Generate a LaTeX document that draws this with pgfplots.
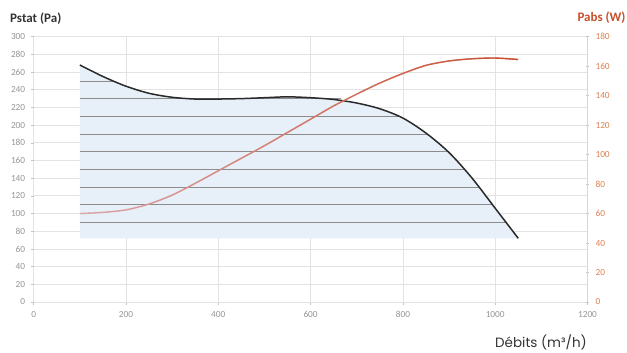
\documentclass[border=0pt]{standalone}
\usepackage{fontspec}
\setmainfont{Carlito}
\newfontfamily\poppins{Poppins}
\usepackage{pgfplots}
\pgfplotsset{compat=1.18}
\usetikzlibrary{fadings}
\definecolor{tickgray}{HTML}{959595}
\definecolor{gridgray}{HTML}{E3E3E3}
\definecolor{fillblue}{HTML}{E7EFF8}
\definecolor{hline}{HTML}{8C8C8C}
\definecolor{curvecol}{HTML}{2A2A2A}
\definecolor{pabsred}{HTML}{C94E2C}
\definecolor{pabspink}{HTML}{DCA6A8}
\definecolor{righttick}{HTML}{DB8050}
\definecolor{titlegray}{HTML}{333333}
\definecolor{rightaxis}{HTML}{C9D8EC}
\begin{document}
\begin{tikzpicture}
\begin{axis}[
  at={(0,0)}, anchor=south west,
  scale only axis, width=553.8pt, height=265.3pt,
  xmin=0, xmax=1200, ymin=0, ymax=300,
  xtick={0,200,...,1200}, ytick={0,20,...,300},
  axis lines*=left,
  x axis line style={gridgray, line width=0.8pt},
  y axis line style={draw=none},
  grid=major, major grid style={gridgray, line width=0.8pt},
  tick align=outside, major tick length=3pt,
  tick style={gridgray!70!gray, line width=0.6pt},
  ticklabel style={font=\fontsize{9.3}{10}\selectfont, text=tickgray},
  /pgf/number format/assume math mode=true,
  /pgf/number format/1000 sep={},
  yticklabel style={xshift=-2pt},
  xticklabel style={yshift=-3pt},
  clip=false,
]
\addplot[fill=fillblue, draw=none, smooth] coordinates {
 (100,268) (150,255) (200,244) (250,236) (300,231.5) (350,229.5) (400,229.5) (450,230)
 (500,231) (550,232) (600,231) (650,229) (700,225) (750,218.5) (800,208) (850,191)
 (900,169) (950,140) (1000,106) (1050,72)} -- (axis cs:100,72) -- cycle;
\addplot[hline, line width=0.7pt] coordinates {(100,250) (172,250)};
\addplot[hline, line width=0.7pt] coordinates {(100,230) (665,230)};
\addplot[hline, line width=0.7pt] coordinates {(100,210) (790,210)};
\addplot[hline, line width=0.7pt] coordinates {(100,190) (852,190)};
\addplot[hline, line width=0.7pt] coordinates {(100,170) (899,170)};
\addplot[hline, line width=0.7pt] coordinates {(100,150) (933,150)};
\addplot[hline, line width=0.7pt] coordinates {(100,130) (966,130)};
\addplot[hline, line width=0.7pt] coordinates {(100,110) (994,110)};
\addplot[hline, line width=0.7pt] coordinates {(100,90) (1023,90)};
\addplot[curvecol, line width=1.5pt, smooth] coordinates {
 (100,268) (150,255) (200,244) (250,236) (300,231.5) (350,229.5) (400,229.5) (450,230)
 (500,231) (550,232) (600,231) (650,229) (700,225) (750,218.5) (800,208) (850,191)
 (900,169) (950,140) (1000,106) (1050,72)};
\end{axis}
\begin{axis}[
  at={(0,0)}, anchor=south west,
  scale only axis, width=553.8pt, height=265.3pt,
  xmin=0, xmax=1200, ymin=0, ymax=180,
  ytick={0,20,...,180},
  axis x line=none, axis y line*=right,
  y axis line style={rightaxis, line width=0.8pt},
  tick align=center, major tick length=3pt,
  tick style={gridgray!70!gray, line width=0.6pt},
  ticklabel style={font=\fontsize{9.3}{10}\selectfont, text=righttick},
  /pgf/number format/assume math mode=true,
  yticklabel style={xshift=3pt},
]
\addplot[pabspink, line width=1.4pt, smooth] coordinates {
 (100,60) (150,60.8) (200,62.5) (250,66.5) (300,72.5) (350,80.5) (400,89) (450,97.5)
 (500,106) (550,115) (600,124) (650,133) (700,141) (750,148.5) (800,155) (850,160.5)
 (900,163.5) (950,165) (1000,165.5) (1050,164.5)};
\addplot[pabsred, line width=1.4pt, smooth, path fading=west] coordinates {
 (100,60) (150,60.8) (200,62.5) (250,66.5) (300,72.5) (350,80.5) (400,89) (450,97.5)
 (500,106) (550,115) (600,124) (650,133) (700,141) (750,148.5) (800,155) (850,160.5)
 (900,163.5) (950,165) (1000,165.5) (1050,164.5)};
\end{axis}
\node[anchor=base west, inner sep=0pt, font=\bfseries\fontsize{13}{14}\selectfont, text=titlegray] at (-23.7pt,279.5pt) {Pstat (Pa)};
\node[anchor=base east, inner sep=0pt, font=\bfseries\fontsize{13}{14}\selectfont, text=pabsred] at (592pt,280.5pt) {Pabs (W)};
\node[anchor=base east, inner sep=0pt, font=\poppins\fontsize{13.5}{15}\selectfont, text=titlegray] at (553.3pt,-46pt) {Débits (m³/h)};
\pgfresetboundingbox
\path[use as bounding box] (-33.7pt,-51pt) rectangle (593.3pt,302pt);
\end{tikzpicture}
\end{document}
